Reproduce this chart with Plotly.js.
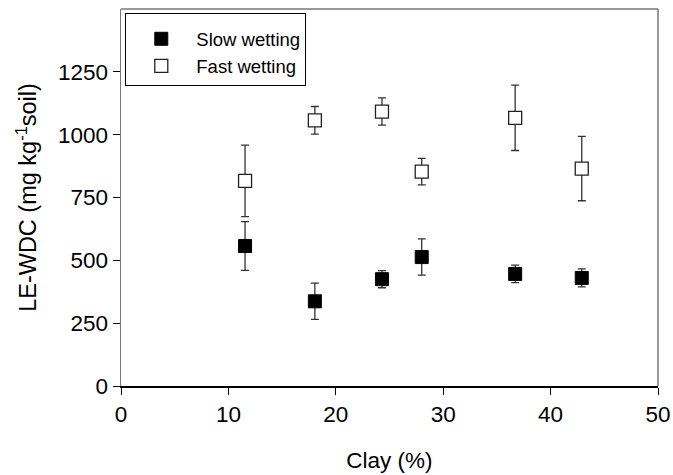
<!DOCTYPE html>
<html>
<head>
<meta charset="utf-8">
<script src="https://cdn.plot.ly/plotly-3.0.1.min.js"></script>
<style>html,body{margin:0;padding:0;background:#fff;}#chart{width:673px;height:475px;}</style>
</head>
<body>
<div id="chart"></div>
<script>
const clay = [11.55, 18.05, 24.3, 28.0, 36.7, 42.9];
const slowWetting = [557, 337, 425, 513, 446, 430];
const slowErr = [97, 72, 34, 72, 35, 36];
const fastWetting = [816, 1057, 1092, 853, 1067, 865];
const fastErr = [142, 55, 54, 53, 130, 128];
const seriesNames = ["Slow wetting", "Fast wetting"];

const errStyle = {color: "#333", thickness: 1.3, width: 4};

const traces = [
  {
    x: clay, y: fastWetting, type: "scatter", mode: "markers", name: seriesNames[1],
    marker: {symbol: "square", size: 13, color: "#fff", line: {color: "#222", width: 1.3}},
    error_y: Object.assign({type: "data", array: fastErr, visible: true}, errStyle)
  },
  {
    x: clay, y: slowWetting, type: "scatter", mode: "markers", name: seriesNames[0],
    marker: {symbol: "square", size: 13, color: "#000", line: {color: "#000", width: 1}},
    error_y: Object.assign({type: "data", array: slowErr, visible: true}, errStyle)
  }
];

const font = {family: "Liberation Sans, Arial, sans-serif", color: "#000"};

const layout = {
  width: 673, height: 475,
  margin: {l: 121, r: 15, t: 9, b: 89},
  paper_bgcolor: "#fff", plot_bgcolor: "#fff",
  font: Object.assign({size: 22}, font),
  showlegend: true,
  legend: {
    x: 0.008, y: 0.99, xanchor: "left", yanchor: "top",
    traceorder: "reversed",
    bordercolor: "#000", borderwidth: 1, bgcolor: "#fff",
    font: Object.assign({size: 18.5}, font),
    title: {text: " ", font: Object.assign({size: 5}, font)},
    itemwidth: 60
  },
  xaxis: {
    range: [0, 50], dtick: 10, tick0: 0,
    ticks: "outside", ticklen: 7, tickcolor: "#000", tickwidth: 1,
    showline: true, linecolor: "#000", linewidth: 1.5,
    showgrid: false, zeroline: false,
    tickfont: Object.assign({size: 22.5}, font),
    title: {text: "Clay (%)", font: Object.assign({size: 22.5}, font), standoff: 26}
  },
  yaxis: {
    range: [0, 1500], tickvals: [0, 250, 500, 750, 1000, 1250],
    ticks: "outside", ticklen: 7, tickcolor: "#000", tickwidth: 1,
    showline: true, linecolor: "#777", linewidth: 1.5,
    showgrid: false, zeroline: false,
    tickfont: Object.assign({size: 22.5}, font),
    title: {text: "LE-WDC (mg kg<sup>-1</sup>soil)", font: Object.assign({size: 23.5}, font), standoff: 14}
  },
  shapes: [
    {type: "line", xref: "paper", yref: "paper", x0: 0, x1: 1, y0: 1, y1: 1, line: {color: "#777", width: 1.5}},
    {type: "line", xref: "paper", yref: "paper", x0: 1, x1: 1, y0: 0, y1: 1, line: {color: "#777", width: 1.5}}
  ]
};

Plotly.newPlot("chart", traces, layout, {displayModeBar: false, staticPlot: true});
</script>
</body>
</html>
